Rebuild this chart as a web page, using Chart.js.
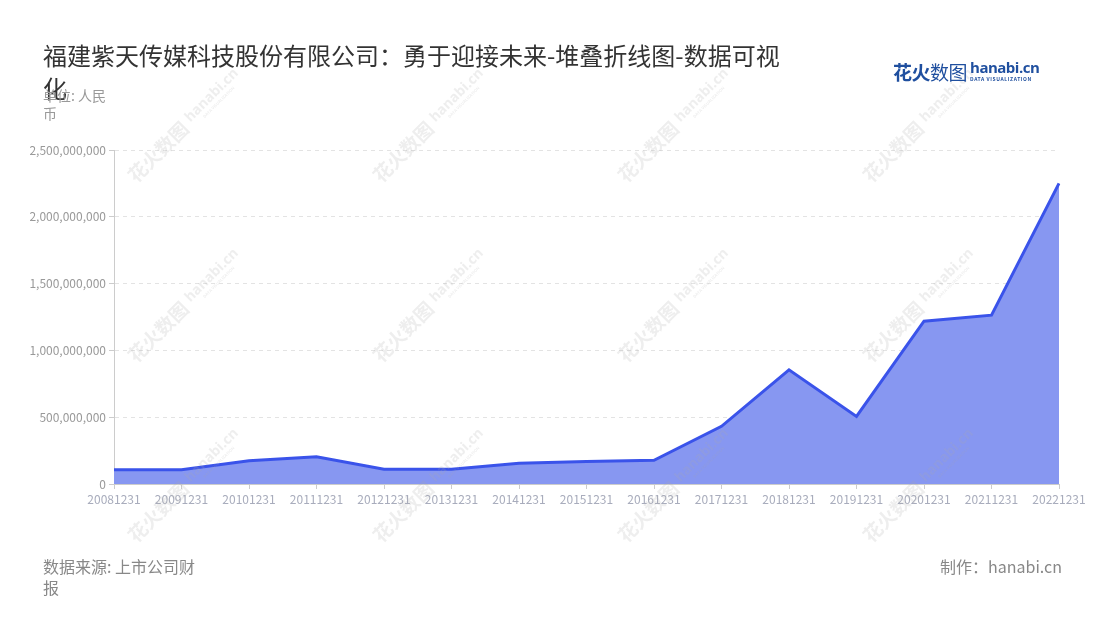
<!DOCTYPE html>
<html lang="zh">
<head>
  <meta charset="UTF-8">
  <title>福建紫天传媒科技股份有限公司</title>
  <style>
    body { margin: 0; background: #fff; font-family: "Noto Sans CJK SC", "Noto Sans", sans-serif; }
    .page { position: relative; width: 1100px; height: 620px; overflow: hidden; }
    canvas { position: absolute; left: 0; top: 0; }
    .title { position: absolute; left: 43px; top: 38px; font-size: 24px; line-height: 33px; color: #333; white-space: nowrap; z-index: 2; }
    .unit { position: absolute; left: 43px; top: 86px; font-size: 14px; line-height: 18px; color: #999; z-index: 3; }
    .source { position: absolute; left: 43px; top: 556px; font-size: 16px; line-height: 21px; color: #888; }
    .maker { position: absolute; right: 38px; top: 556px; font-size: 16px; line-height: 21px; color: #888; }
    .logo { position: absolute; left: 893px; top: 58px; white-space: nowrap; color: #1f4f9f; }
    .logo .cn { font-size: 19px; font-weight: bold; letter-spacing: -0.5px; vertical-align: top; }
    .logo .cn span { font-weight: normal; }
    .logo .en { display: inline-block; vertical-align: top; margin-left: 3px; line-height: 1; }
    .logo .en b { font-family: "Open Sans", sans-serif; font-size: 15px; letter-spacing: -0.5px; display: block; margin-top: 2px; }
    .logo .en i { font-style: normal; font-size: 5px; letter-spacing: 0.6px; display: block; margin-top: 1px; font-weight: bold; }
  </style>
</head>
<body>
  <div class="page">
    <canvas id="chart" width="1100" height="620"></canvas>
    <div class="title">福建紫天传媒科技股份有限公司：勇于迎接未来-堆叠折线图-数据可视<br>化</div>
    <div class="unit">单位: 人民<br>币</div>
    <div class="logo"><span class="cn">花火<span>数图</span></span><span class="en"><b>hanabi.cn</b><i>DATA VISUALIZATION</i></span></div>
    <div class="source">数据来源: 上市公司财<br>报</div>
    <div class="maker">制作：hanabi.cn</div>
  </div>

  <script src="https://cdn.jsdelivr.net/npm/chart.js"></script>
  <script>
    // data
    const dates = ['20081231','20091231','20101231','20111231','20121231','20131231','20141231','20151231',
                   '20161231','20171231','20181231','20191231','20201231','20211231','20221231'];
    const values = [107e6, 107e6, 174e6, 204e6, 110e6, 110e6, 155e6, 169e6,
                    178e6, 432e6, 855e6, 506e6, 1219e6, 1264e6, 2250e6];
    const seriesName = '营业收入';
    const yMax = 2500000000;
    const yStep = 500000000;

    // faint "花火数图 hanabi.cn" marks over the plot
    const watermark = {
      id: 'watermark',
      afterDatasetsDraw(chart) {
        const ctx = chart.ctx;
        ctx.save();
        ctx.fillStyle = 'rgba(170,170,170,0.2)';
        ctx.textAlign = 'center';
        ctx.textBaseline = 'middle';
        [185, 430, 675, 920].forEach(x => {
          [125, 305, 485].forEach(y => {
            ctx.save();
            ctx.translate(x, y);
            ctx.rotate(-Math.PI / 4);
            ctx.font = 'bold 19px "Noto Sans CJK SC"';
            ctx.fillText('花火数图', -38, 0);
            ctx.font = 'bold 14px "Open Sans"';
            ctx.fillText('hanabi.cn', 40, -2);
            ctx.font = 'bold 4px "Open Sans"';
            ctx.fillText('DATA VISUALIZATION', 40, 8);
            ctx.restore();
          });
        });
        ctx.restore();
      }
    };

    const data = {
      labels: dates,
      datasets: [{
        label: seriesName,
        data: values,
        borderColor: '#3a53ea',
        backgroundColor: 'rgb(135,151,241)',
        borderWidth: 3,
        fill: 'origin',
        tension: 0,
        pointRadius: 0
      }]
    };

    const config = {
      type: 'line',
      data,
      options: {
        responsive: false,
        animation: false,
        layout: { padding: { top: 150, right: 41, left: 0, bottom: 0 } },
        plugins: {
          legend: { display: false },
          tooltip: { enabled: false }
        },
        scales: {
          x: {
            offset: false,
            afterFit(scale) { scale.height = 136; },
            grid: { drawOnChartArea: false, drawTicks: true, tickLength: 5, color: '#ccc' },
            border: { display: true, color: '#ccc', width: 1 },
            ticks: {
              color: '#a8acbc', maxRotation: 0, autoSkip: false, padding: 3,
              font: { family: '"Noto Sans CJK SC"', size: 12 }
            }
          },
          y: {
            min: 0,
            max: yMax,
            afterFit(scale) { scale.width = 114; },
            grid: { color: '#e3e3e3', tickLength: 5, tickColor: '#ccc' },
            border: { display: true, color: '#ccc', width: 1, dash: [4, 4] },
            ticks: {
              stepSize: yStep, color: '#999', padding: 3,
              font: { family: '"Noto Sans CJK SC"', size: 12 },
              callback: v => v.toLocaleString('en-US')
            }
          }
        }
      },
      plugins: [watermark]
    };

    const myChart = new Chart(document.getElementById('chart'), config);
  </script>
</body>
</html>
